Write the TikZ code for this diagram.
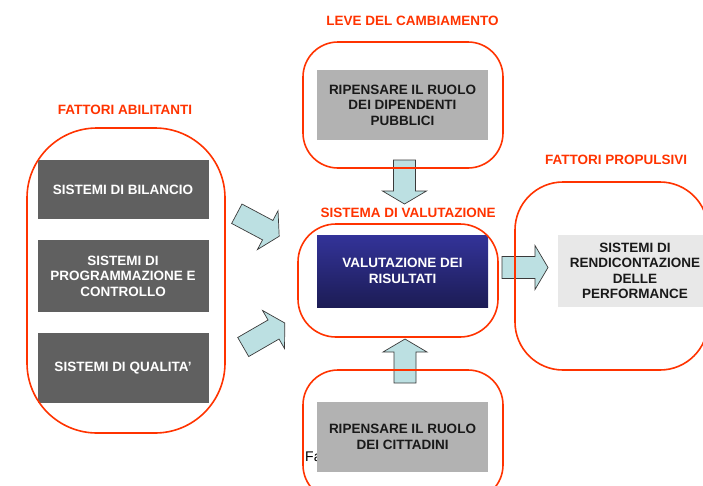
\documentclass[tikz,border=0pt]{standalone}
\usepackage{fontspec}
\setmainfont{Liberation Sans}

\definecolor{rosso}{HTML}{FF3300}
\definecolor{grigioscuro}{HTML}{606060}
\definecolor{grigio}{HTML}{B2B2B2}
\definecolor{chiaro}{HTML}{E8E8E8}
\definecolor{blualto}{HTML}{333399}
\definecolor{blubasso}{HTML}{1C1C55}
\definecolor{azzurro}{HTML}{BCE0E2}
\definecolor{bordo}{HTML}{3A3A3A}

\tikzset{
  testo/.style={font=\bfseries\fontsize{13.5}{15.5}\selectfont},
  casella/.style={testo, minimum width=171, inner sep=0, align=center},
  scuro/.style={casella, fill=grigioscuro, text=white},
  grigiobox/.style={casella, fill=grigio, text=black!90},
  chiarobox/.style={casella, fill=chiaro, text=black!90, minimum width=154},
  blubox/.style={casella, top color=blualto, bottom color=blubasso, text=white},
  gruppo/.style={draw=rosso, line width=1.6pt, inner sep=0},
  titolo/.style={testo, text=rosso, inner sep=0},
  pics/freccia/.style={code={
    \draw[fill=azzurro, draw=bordo, line width=0.7pt]
      (-#1/2,-11) -- (#1/2-13,-11) -- (#1/2-13,-22) -- (#1/2,0)
      -- (#1/2-13,22) -- (#1/2-13,11) -- (-#1/2,11) -- cycle;
  }}
}

\begin{document}
\begin{tikzpicture}[x=1pt,y=-1pt]
    \useasboundingbox (0,0) rectangle (703,485);
    \clip (0,0) rectangle (703,485);

    % frecce
    \pic (f1) [rotate=-28] at (258,225) {freccia=48};
    \pic (f2) [rotate=30] at (264,335) {freccia=48};
    \pic (f3) [rotate=-90] at (404.5,182) {freccia=44};
    \pic (f4) [rotate=90] at (405,361) {freccia=44};
    \pic (f5) at (525,267.5) {freccia=46};

    % testo coperto
    \node[anchor=west, inner sep=0, font=\fontsize{14}{16}\selectfont] (fa) at (305,457) {Fa};

    % caselle
    \node[scuro, minimum height=59] (bilancio) at (123,189.5) {SISTEMI DI BILANCIO};
    \node[scuro, minimum height=72] (programmazione) at (123,276) {SISTEMI DI\\PROGRAMMAZIONE E\\CONTROLLO};
    \node[scuro, minimum height=70] (qualita) at (123,368) {SISTEMI DI QUALITA'};
    \node[grigiobox, minimum height=70] (dipendenti) at (402.5,105) {RIPENSARE IL RUOLO\\DEI DIPENDENTI\\PUBBLICI};
    \node[blubox, minimum height=72] (risultati) at (402.5,271) {VALUTAZIONE DEI\\RISULTATI};
    \node[grigiobox, minimum height=70] (cittadini) at (402.5,437) {RIPENSARE IL RUOLO\\DEI CITTADINI};
    \node[chiarobox, minimum height=72] (rendicontazione) at (635,271) {SISTEMI DI\\RENDICONTAZIONE\\DELLE\\PERFORMANCE};

    % gruppi
    \node[gruppo, rounded corners=70pt, minimum width=198, minimum height=305] (abilitanti) at (126,280.5) {};
    \node[gruppo, rounded corners=35pt, minimum width=200, minimum height=126] (leve) at (403,105) {};
    \node[gruppo, rounded corners=38pt, minimum width=200, minimum height=113] (sistema) at (398,280.5) {};
    \node[gruppo, rounded corners=35pt, minimum width=200, minimum height=130] (ruolo) at (403,435) {};
    \node[gruppo, rounded corners=48pt, minimum width=193, minimum height=188] (propulsivi) at (611.5,276) {};

    % titoli
    \node[titolo] (tabilitanti) at (125,110) {FATTORI ABILITANTI};
    \node[titolo] (tleve) at (412.5,21) {LEVE DEL CAMBIAMENTO};
    \node[titolo] (tsistema) at (408,213) {SISTEMA DI VALUTAZIONE};
    \node[titolo] (tpropulsivi) at (616,160) {FATTORI PROPULSIVI};
\end{tikzpicture}
\end{document}
